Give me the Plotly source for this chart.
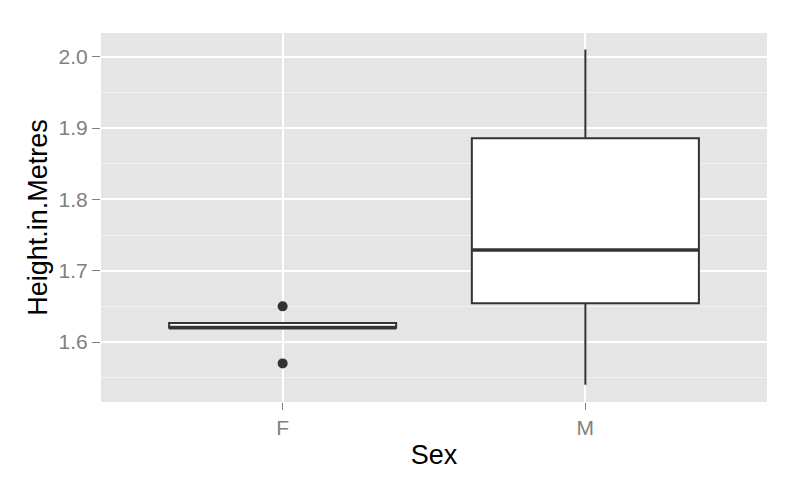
import plotly.graph_objects as go

categories = ["F", "M"]
q1 = [1.620, 1.6545]
median = [1.620, 1.729]
q3 = [1.6265, 1.8855]
lower = [1.620, 1.54]
upper = [1.6265, 2.01]
outlier_cat = ["F", "F"]
outlier_vals = [1.65, 1.57]

box_width = 0.75
xpos = list(range(len(categories)))
cat_index = {c: i for i, c in enumerate(categories)}

fig = go.Figure()
fig.add_trace(go.Box(
    x=xpos, q1=q1, median=median, q3=q3,
    lowerfence=lower, upperfence=upper,
    width=box_width, boxpoints=False,
    fillcolor="white", line=dict(color="#333333", width=2),
    whiskerwidth=0, showlegend=False, hoverinfo="skip",
))
# thicker median lines
for i, m in enumerate(median):
    fig.add_trace(go.Scatter(
        x=[xpos[i] - box_width / 2, xpos[i] + box_width / 2], y=[m, m],
        mode="lines", line=dict(color="#333333", width=3.5),
        showlegend=False, hoverinfo="skip",
    ))
fig.add_trace(go.Scatter(
    x=[cat_index[c] for c in outlier_cat], y=outlier_vals,
    mode="markers", marker=dict(color="#333333", size=10),
    showlegend=False, hoverinfo="skip",
))

fig.update_layout(
    width=792, height=480,
    margin=dict(l=93, r=33, t=25, b=86),
    paper_bgcolor="white", plot_bgcolor="#E5E5E5",
    font=dict(family="Liberation Sans, Arial, sans-serif"),
    xaxis=dict(
        range=[-0.6, 1.6], tickvals=xpos, ticktext=categories,
        showgrid=True, gridcolor="white", gridwidth=1.5, zeroline=False,
        ticks="outside", ticklen=7, tickwidth=1.2, tickcolor="#7F7F7F",
        tickfont=dict(size=21, color="#7F7F7F"),
        title=dict(text="Sex", font=dict(size=27, color="black"), standoff=6),
    ),
    yaxis=dict(
        range=[1.5159, 2.0332], tickvals=[1.6, 1.7, 1.8, 1.9, 2.0],
        ticktext=["1.6", "1.7", "1.8", "1.9", "2.0"],
        showgrid=True, gridcolor="white", gridwidth=1.5, zeroline=False,
        minor=dict(tickvals=[1.55, 1.65, 1.75, 1.85, 1.95], showgrid=True,
                   gridcolor="#F2F2F2", gridwidth=1),
        ticks="outside", ticklen=8, tickwidth=1.2, tickcolor="#7F7F7F",
        tickfont=dict(size=21, color="#7F7F7F"),
        title=dict(text="Height.in.Metres", font=dict(size=27, color="black"), standoff=3),
    ),
)

fig.write_html("out.html")
